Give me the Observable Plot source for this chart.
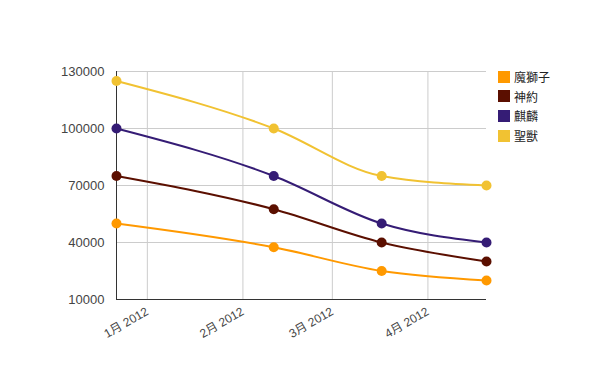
<!DOCTYPE html>
<html>
<head>
<meta charset="utf-8">
<script src="https://cdn.jsdelivr.net/npm/d3@7"></script>
<script src="https://cdn.jsdelivr.net/npm/@observablehq/plot@0.6"></script>
<style>
  body { margin: 0; background: #fff; }
  #wrap { position: relative; width: 600px; height: 371px; font-family: "Liberation Sans", Arial, "Noto Sans CJK TC", sans-serif; }
  #legend { position: absolute; left: 498px; top: 67px; font-size: 12px; color: #222; }
  .item { display: flex; align-items: center; height: 19.6px; }
  .sw { width: 12px; height: 12px; margin-right: 4px; }
</style>
</head>
<body>
<div id="wrap"></div>
<script>
const dates = ["2011-12-22", "2012-02-11", "2012-03-17", "2012-04-20"];
const seriesNames = ["魔獅子", "神約", "麒麟", "聖獸"];
const seriesColors = ["#ff9900", "#5b0f00", "#351c75", "#f1c232"];
const values魔獅子 = [50000, 37500, 25000, 20000];
const values神約 = [75000, 57500, 40000, 30000];
const values麒麟 = [100000, 75000, 50000, 40000];
const values聖獸 = [125000, 100000, 75000, 70000];
const yTicks = [10000, 40000, 70000, 100000, 130000];
const monthTicks = ["2012-01-01", "2012-02-01", "2012-03-01", "2012-04-01"];

const seriesValues = [values魔獅子, values神約, values麒麟, values聖獸];
const data = [];
seriesNames.forEach((name, i) => {
  dates.forEach((d, j) => data.push({series: name, date: new Date(d), value: seriesValues[i][j]}));
});
const xTicks = monthTicks.map(d => new Date(d));
const d0 = new Date(dates[0]), d1 = new Date(dates[dates.length - 1]);

const chart = Plot.plot({
  width: 600, height: 371,
  marginLeft: 116, marginRight: 114, marginTop: 71, marginBottom: 72,
  style: {fontFamily: "'Liberation Sans', Arial, 'Noto Sans CJK TC', sans-serif", fontSize: "13px", color: "#444", background: "#fff"},
  x: {type: "utc", domain: [d0, d1]},
  y: {domain: [10000, 130000]},
  color: {domain: seriesNames, range: seriesColors},
  marks: [
    Plot.gridX(xTicks, {stroke: "#ccc", strokeOpacity: 1}),
    Plot.gridY(yTicks, {stroke: "#ccc", strokeOpacity: 1}),
    Plot.axisY({ticks: yTicks, tickSize: 0, tickPadding: 12, label: null, tickFormat: d3.format("d")}),
    Plot.axisX({ticks: xTicks, tickSize: 0, tickPadding: 11, tickRotate: -30, label: null, fontSize: 12,
      tickFormat: d => `${d.getUTCMonth() + 1}月 ${d.getUTCFullYear()}`}),
    Plot.ruleX([d0], {stroke: "#333"}),
    Plot.ruleY([10000], {stroke: "#333"}),
    Plot.line(data, {x: "date", y: "value", z: "series", stroke: "series", curve: "monotone-x", strokeWidth: 2}),
    Plot.dot(data, {x: "date", y: "value", fill: "series", r: 5})
  ]
});
const wrap = document.getElementById("wrap");
wrap.appendChild(chart);

const legend = document.createElement("div");
legend.id = "legend";
seriesNames.forEach((name, i) => {
  const item = document.createElement("div");
  item.className = "item";
  const sw = document.createElement("div");
  sw.className = "sw";
  sw.style.background = seriesColors[i];
  const lab = document.createElement("span");
  lab.textContent = name;
  item.appendChild(sw);
  item.appendChild(lab);
  legend.appendChild(item);
});
wrap.appendChild(legend);
</script>
</body>
</html>
